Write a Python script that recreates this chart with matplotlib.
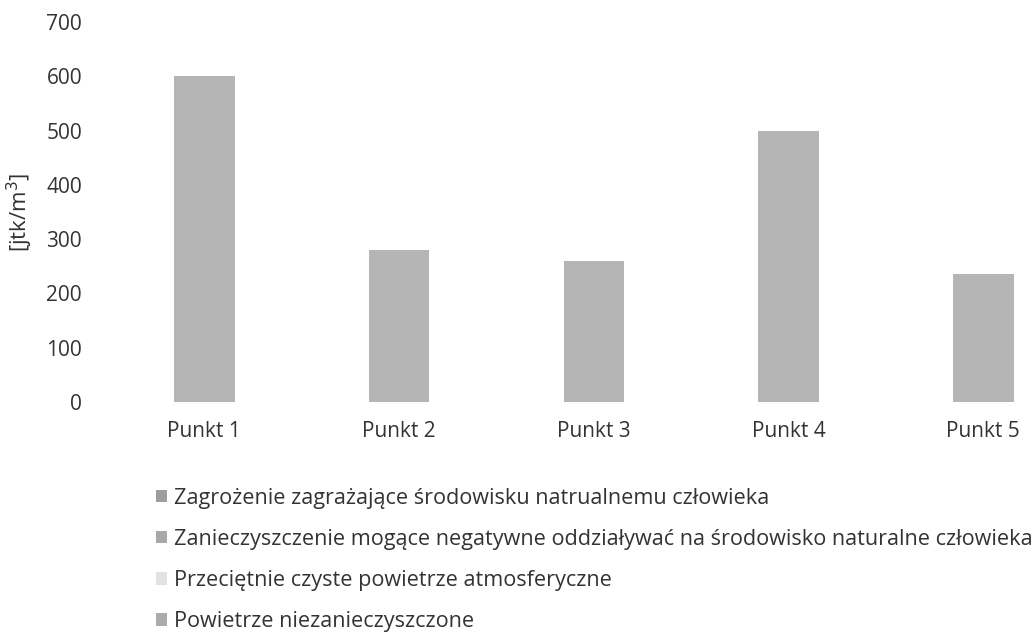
import matplotlib.pyplot as plt
from matplotlib.patches import Patch

plt.rcParams['font.family'] = ['Open Sans', 'DejaVu Sans']

categories = ['Punkt 1', 'Punkt 2', 'Punkt 3', 'Punkt 4', 'Punkt 5']
values = [600, 280, 260, 500, 235]
y_ticks = [0, 100, 200, 300, 400, 500, 600, 700]

legend_labels = [
    'Zagrożenie zagrażające środowisku natrualnemu człowieka',
    'Zanieczyszczenie mogące negatywne oddziaływać na środowisko naturalne człowieka',
    'Przeciętnie czyste powietrze atmosferyczne',
    'Powietrze niezanieczyszczone',
]
legend_colors = ['#9e9e9e', '#a8a8a8', '#e2e2e2', '#ababab']

fig = plt.figure(figsize=(10.32, 6.32), dpi=100)
ax = fig.add_axes([107 / 1032, 1 - 402 / 632, 1 - 107 / 1032, 380 / 632])

x = range(len(categories))
ax.bar(x, values, width=0.31, color='#b5b5b5')

ax.set_xlim(-0.5, 4.25)
ax.set_ylim(0, 700)
ax.set_yticks(y_ticks)
ax.set_xticks(list(x))
ax.set_xticklabels(categories)
ax.tick_params(length=0, labelsize=15, colors='#333333')
ax.tick_params(axis='y', pad=18)
ax.tick_params(axis='x', pad=14)
for s in ax.spines.values():
    s.set_visible(False)

ax.set_ylabel('[jtk/m$^3$]', fontsize=16, color='#333333')
ax.yaxis.set_label_coords(-0.078, 0.5)

handles = [Patch(facecolor=c, edgecolor='none') for c in legend_colors]
fig.legend(handles, legend_labels, loc='upper left', bbox_to_anchor=(145 / 1032, 1 - 477 / 632),
           frameon=False, fontsize=15.6, labelspacing=0.93, handlelength=0.5, handleheight=0.5,
           handletextpad=0.35, borderpad=0, labelcolor='#333333')

fig.savefig('out.png', dpi=100)
